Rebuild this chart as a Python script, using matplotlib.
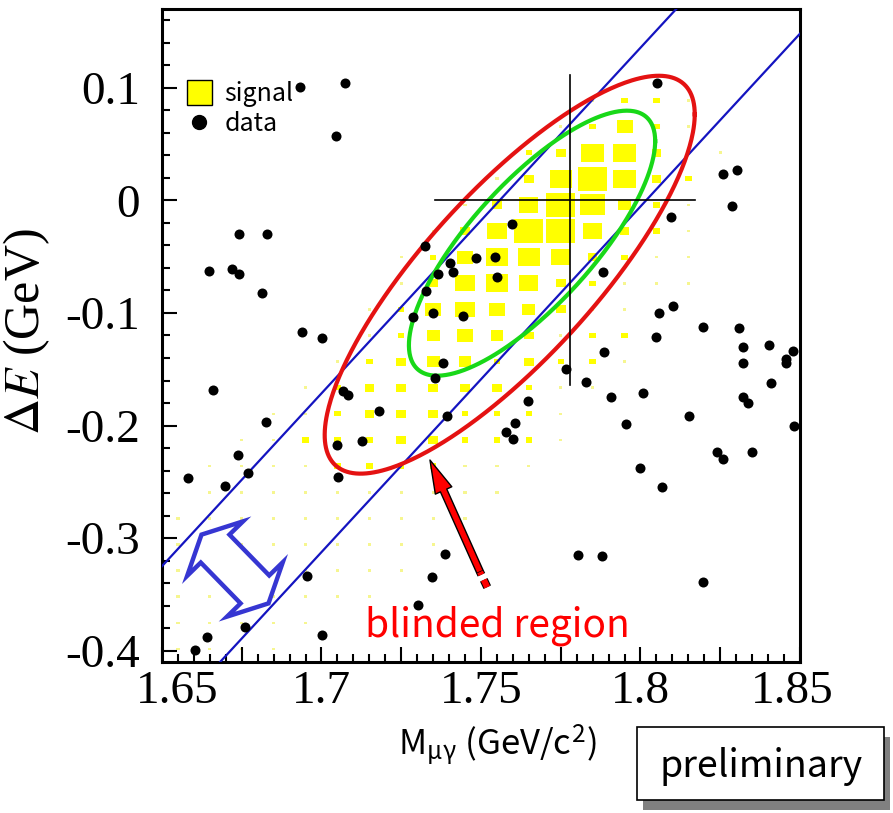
import numpy as np
import matplotlib.pyplot as plt
from matplotlib.patches import Rectangle, Polygon
from matplotlib.collections import PatchCollection
from matplotlib.lines import Line2D
import matplotlib.patheffects as pe
import matplotlib.transforms as mtransforms

plt.rcParams['mathtext.fontset'] = 'stix'
SANS = ['Noto Sans CJK JP', 'DejaVu Sans']
SERIF = ['Liberation Serif', 'DejaVu Serif']

# axis ranges
M_RANGE = (1.65, 1.85)
DE_RANGE = (-0.41, 0.17)

# signal MC, box size per bin (tenths of a bin), 20 mass bins x 25 dE bins
# rows from top (dE bin 24) down to bottom (dE bin 0)
signal_boxes = [
    [0, 0, 0, 0, 0, 0, 0, 0, 0, 0, 0, 0, 0, 0, 0, 0, 0, 0, 0, 0],
    [0, 0, 0, 0, 0, 0, 0, 0, 0, 0, 0, 0, 0, 0, 0, 0, 0, 0, 0, 0],
    [0, 0, 0, 0, 0, 0, 0, 0, 0, 0, 0, 0, 0, 0, 0, 0, 0, 0, 0, 0],
    [0, 0, 0, 0, 0, 0, 0, 0, 0, 0, 0, 0, 0, 1, 2, 2, 1, 0, 0, 0],
    [0, 0, 0, 0, 0, 0, 0, 0, 0, 0, 0, 0, 1, 2, 5, 2, 1, 0, 0, 0],
    [0, 0, 0, 0, 0, 0, 0, 0, 0, 0, 0, 2, 3, 7, 7, 3, 1, 1, 0, 0],
    [0, 0, 0, 0, 0, 0, 0, 0, 0, 0, 1, 3, 7, 9, 7, 3, 2, 0, 0, 0],
    [0, 0, 0, 0, 0, 0, 0, 0, 0, 1, 3, 6, 9, 8, 4, 2, 1, 0, 0, 0],
    [0, 0, 0, 0, 0, 0, 0, 0, 1, 3, 6, 9, 9, 6, 3, 2, 1, 0, 0, 0],
    [0, 0, 0, 0, 0, 0, 0, 1, 2, 5, 7, 7, 6, 3, 2, 1, 1, 0, 0, 0],
    [0, 0, 0, 0, 0, 0, 0, 1, 3, 6, 7, 6, 3, 2, 1, 1, 1, 0, 0, 0],
    [0, 0, 0, 0, 0, 0, 1, 2, 5, 6, 5, 4, 3, 1, 1, 0, 0, 0, 0, 0],
    [0, 0, 0, 0, 0, 0, 1, 2, 4, 5, 4, 3, 1, 2, 2, 1, 0, 0, 0, 0],
    [0, 0, 0, 0, 0, 1, 2, 3, 4, 4, 2, 3, 2, 2, 1, 0, 0, 0, 0, 0],
    [0, 0, 0, 0, 1, 2, 3, 3, 3, 3, 3, 2, 1, 1, 0, 0, 0, 0, 0, 0],
    [0, 0, 0, 1, 1, 2, 3, 3, 3, 2, 2, 2, 1, 0, 0, 0, 0, 0, 0, 0],
    [0, 0, 1, 1, 2, 2, 2, 3, 3, 2, 2, 2, 1, 0, 0, 0, 0, 0, 0, 0],
    [0, 1, 1, 1, 1, 2, 2, 2, 2, 1, 1, 1, 0, 0, 0, 0, 0, 0, 0, 0],
    [0, 1, 1, 1, 1, 1, 1, 1, 1, 1, 1, 0, 0, 0, 0, 0, 0, 0, 0, 0],
    [1, 1, 1, 1, 1, 1, 1, 1, 1, 1, 0, 0, 0, 0, 0, 0, 0, 0, 0, 0],
    [1, 1, 1, 1, 1, 1, 1, 1, 1, 0, 0, 0, 0, 0, 0, 0, 0, 0, 0, 0],
    [1, 1, 1, 1, 1, 1, 1, 1, 0, 0, 0, 0, 0, 0, 0, 0, 0, 0, 0, 0],
    [1, 1, 1, 1, 1, 1, 1, 0, 0, 0, 0, 0, 0, 0, 0, 0, 0, 0, 0, 0],
    [1, 1, 1, 1, 1, 0, 0, 0, 0, 0, 0, 0, 0, 0, 0, 0, 0, 0, 0, 0],
    [1, 1, 1, 1, 0, 0, 0, 0, 0, 0, 0, 0, 0, 0, 0, 0, 0, 0, 0, 0],
]

# data events (M_mugamma, dE)
data_m = [1.6933, 1.7074, 1.7045, 1.6829, 1.7324, 1.6582, 1.6697, 1.6738,
          1.6770, 1.7052, 1.6955, 1.6760, 1.6641, 1.6603, 1.7002, 1.7303,
          1.7346, 1.7387, 1.7067, 1.7083, 1.7180, 1.7049, 1.7127, 1.7393,
          1.7647, 1.7607, 1.7578, 1.7600, 1.8052, 1.8096, 1.7597, 1.7484,
          1.7544, 1.7403, 1.7412, 1.7365, 1.7550, 1.7328, 1.7882, 1.7287,
          1.7350, 1.7444, 1.8102, 1.8058, 1.8196, 1.8049, 1.7886, 1.7381,
          1.7356, 1.7766, 1.7829, 1.7908, 1.8008, 1.8259, 1.8303, 1.8287,
          1.8309, 1.8321, 1.8321, 1.8403, 1.8456, 1.8456, 1.8478, 1.8409,
          1.8321, 1.8337, 1.8152, 1.8481, 1.8240, 1.8259, 1.8350, 1.8196,
          1.7804, 1.7879, 1.6647, 1.6719, 1.6741, 1.6741, 1.6813, 1.6939,
          1.7002, 1.6660, 1.6826, 1.7955, 1.7998, 1.8067]
data_de = [0.1007, 0.1043, 0.0572, -0.0298, -0.0405, -0.2466, -0.2537, -0.2261,
           -0.2421, -0.2457, -0.3336, -0.3789, -0.3878, -0.3993, -0.3860, -0.3594,
           -0.3345, -0.3141, -0.1693, -0.1728, -0.1870, -0.2172, -0.2137, -0.1915,
           -0.1782, -0.1977, -0.2057, -0.2119, 0.1043, -0.0147, -0.0210, -0.0512,
           -0.0503, -0.0556, -0.0636, -0.0654, -0.0680, -0.0805, -0.0636, -0.1036,
           -0.1000, -0.1027, -0.0938, -0.1000, -0.1124, -0.1213, -0.1346, -0.1444,
           -0.1577, -0.1497, -0.1613, -0.1746, -0.1711, 0.0234, 0.0270, -0.0050,
           -0.1133, -0.1302, -0.1444, -0.1284, -0.1409, -0.1444, -0.1338, -0.1622,
           -0.1746, -0.1799, -0.1915, -0.2004, -0.2235, -0.2297, -0.2235, -0.3389,
           -0.3149, -0.3158, -0.0627, -0.0609, -0.0654, -0.0298, -0.0822, -0.1169,
           -0.1222, -0.1684, -0.1968, -0.1986, -0.2377, -0.2546]

# diagonal band: dE = slope*(M - m0) + offset
band_slope = 3.07
band_m0 = 1.777
band_offsets = [0.065, -0.076]

# blinded (red) and signal (green) regions: centre, half widths, correlation
red_ellipse = dict(m=1.759, de=-0.066, dm=0.058, dde=0.1767, rho=0.806)
green_ellipse = dict(m=1.766, de=-0.038, dm=0.0386, dde=0.1177, rho=0.77)

# nominal point and cross extent
cross_m, cross_de = 1.778, 0.0
cross_m_span = (1.7356, 1.8171)
cross_de_span = (-0.164, 0.111)


def ellipse_xy(e, n=400):
    t = np.linspace(0, 2 * np.pi, n)
    phi = np.arccos(e['rho'])
    return e['m'] + e['dm'] * np.cos(t), e['de'] + e['dde'] * np.cos(t - phi)


W, H = 893, 813
fig = plt.figure(figsize=(W / 100, H / 100), dpi=100)
ax = fig.add_axes([162 / W, 1 - 662 / H, 638 / W, 653 / H])
ax.set_xlim(*M_RANGE)
ax.set_ylim(*DE_RANGE)

# signal boxes (the smallest ones come out pale)
grid = np.array(signal_boxes[::-1]) / 10.0
nbx, nby = grid.shape[1], grid.shape[0]
bw = (M_RANGE[1] - M_RANGE[0]) / nbx
bh = (DE_RANGE[1] - DE_RANGE[0]) / nby
boxes, faint = [], []
for j in range(nby):
    for i in range(nbx):
        f = grid[j, i]
        if f <= 0:
            continue
        xc = M_RANGE[0] + (i + 0.5) * bw
        yc = DE_RANGE[0] + (j + 0.5) * bh
        r = Rectangle((xc - f * bw / 2, yc - f * bh / 2), f * bw, f * bh)
        (faint if f < 0.15 else boxes).append(r)
ax.add_collection(PatchCollection(boxes, facecolor='#ffff00', edgecolor='none', zorder=1))
ax.add_collection(PatchCollection(faint, facecolor='#f6f690', edgecolor='none', zorder=1))

# band lines
mm = np.array(M_RANGE)
for off in band_offsets:
    ax.plot(mm, band_slope * (mm - band_m0) + off, color='#1414c0', lw=1.6, zorder=3)

# regions
for e, c in [(red_ellipse, '#e41212'), (green_ellipse, '#18d818')]:
    ex, ey = ellipse_xy(e)
    ax.plot(ex, ey, color=c, lw=3, zorder=4)

# cross
ax.plot(cross_m_span, [cross_de, cross_de], color='black', lw=1.2, zorder=5)
ax.plot([cross_m, cross_m], cross_de_span, color='black', lw=1.2, zorder=5)

# data
ax.scatter(data_m, data_de, s=52, color='black', zorder=6, linewidths=0)

# axes style
for s in ax.spines.values():
    s.set_linewidth(2.2)
ax.tick_params(which='both', direction='in', top=False, right=False, width=1.5)
ax.tick_params(which='major', length=11)
ax.tick_params(which='minor', length=6)
xt = np.arange(1.65, 1.8501, 0.025)
ax.set_xticks(xt)
ax.set_xticklabels(['1.65', '', '1.7', '', '1.75', '', '1.8', '', '1.85'])
ax.set_xticks(np.arange(1.65, 1.8501, 0.005), minor=True)
yt = [-0.4, -0.3, -0.2, -0.1, 0.0, 0.1]
ax.set_yticks(yt)
ax.set_yticklabels(['-0.4', '-0.3', '-0.2', '-0.1', '0', '0.1'])
ax.set_yticks(np.arange(-0.40, 0.1601, 0.02), minor=True)
for lab in ax.get_xticklabels() + ax.get_yticklabels():
    lab.set_fontfamily(SERIF)
    lab.set_fontsize(34)
ax.tick_params(axis='x', pad=6)
ax.tick_params(axis='y', pad=16)

# pull the end labels of the mass axis inwards a little
xlabs = ax.get_xticklabels()
for lab, dx in [(xlabs[0], 15), (xlabs[-1], -8)]:
    lab.set_transform(lab.get_transform() +
                      mtransforms.ScaledTranslation(dx / 100, 0, fig.dpi_scale_trans))

# axis titles
fig.text(27 / W, 1 - 332 / H, r'$\Delta E$ (GeV)', rotation=90, ha='center', va='center',
         fontsize=36, family=SERIF)
fig.text(497 / W, 1 - 745 / H, r'M$_{\mathregular{μγ}}$ (GeV/c$^{\mathregular{2}}$)',
         ha='center', va='center', fontsize=25, family=SANS)

# legend
handles = [Line2D([], [], marker='s', ms=18, mfc='#ffff00', mec='black', mew=1.0, ls=''),
           Line2D([], [], marker='o', ms=10, color='black', ls='')]
ax.legend(handles, ['signal', 'data'], loc='upper left', bbox_to_anchor=(0.039, 0.89),
          frameon=False, prop={'family': SANS, 'size': 18}, handlelength=1.0,
          handletextpad=0.5, labelspacing=0.15, borderpad=0, borderaxespad=0)

# blinded region arrow
arrow_tip = (1.7340, -0.2306)
arrow_tail = (1.7497, -0.3300)
arrow_end = (1.7527, -0.3480)
ax.annotate('', xy=arrow_tip, xytext=arrow_tail, zorder=7,
            arrowprops=dict(arrowstyle='simple,head_length=2.4,head_width=1.3,tail_width=0.5',
                            fc='#ff0000', ec='black', lw=1.0, shrinkA=0, shrinkB=0))
ax.plot([arrow_tail[0], arrow_end[0]], [arrow_tail[1], arrow_end[1]], color='#ff0000', lw=4.5,
        ls=(0.8, (1.3, 0.9)), solid_capstyle='butt', zorder=7,
        path_effects=[pe.Stroke(linewidth=6, foreground='black'), pe.Normal()])
ax.text(1.755, -0.378, 'blinded region', color='#ff0000', fontsize=28, family=SANS,
        ha='center', va='center', zorder=8)


# hollow double arrow across the band, in figure pixels
def double_arrow(c, u, half_len, head_len, head_w, shaft_w):
    c, u = np.array(c, float), np.array(u, float)
    u /= np.hypot(*u)
    v = np.array([u[1], -u[0]])
    a = half_len - head_len
    pts = [c - half_len * u, c - a * u + head_w * v, c - a * u + shaft_w * v,
           c + a * u + shaft_w * v, c + a * u + head_w * v, c + half_len * u,
           c + a * u - head_w * v, c + a * u - shaft_w * v, c - a * u - shaft_w * v,
           c - a * u - head_w * v]
    return [(p[0] / W, 1 - p[1] / H) for p in pts]


fig.patches.append(Polygon(double_arrow((235, 569), (0.698, 0.716), 48, 19.5, 39, 20),
                           closed=True, transform=fig.transFigure, fc='white',
                           ec='#3636d2', lw=3.2, joinstyle='miter', zorder=10))

# preliminary label
fig.patches.append(Rectangle((643 / W, 1 - 810 / H), 247 / W, 73 / H, transform=fig.transFigure,
                             fc='#808080', ec='none', zorder=10))
fig.patches.append(Rectangle((637 / W, 1 - 800 / H), 247 / W, 73 / H, transform=fig.transFigure,
                             fc='white', ec='black', lw=1.2, zorder=11))
fig.text(761 / W, 1 - 766 / H, 'preliminary', ha='center', va='center', fontsize=27,
         family=SANS, zorder=12)

fig.savefig('out.png', dpi=100)
